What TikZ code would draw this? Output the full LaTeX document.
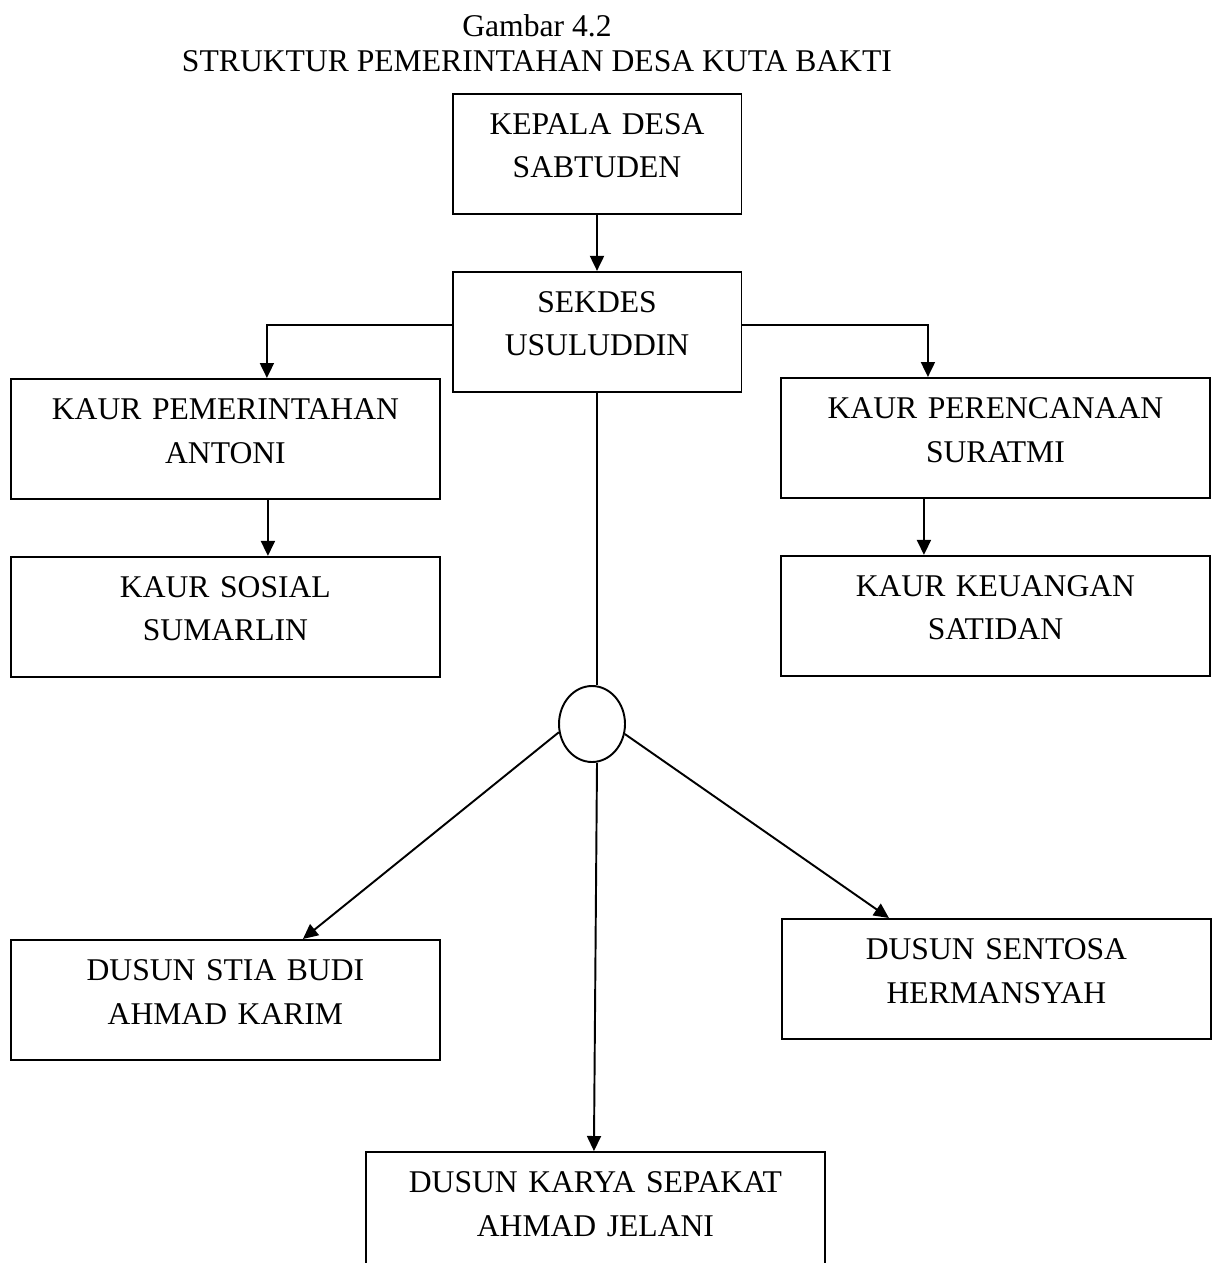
\documentclass[tikz,border=0pt]{standalone}
\usepackage{fontspec}
\setmainfont{Liberation Serif}
\usetikzlibrary{arrows.meta, positioning, shapes.geometric}

\begin{document}
\begin{tikzpicture}[x=0.02cm, y=-0.02cm, node distance=1.12cm,
    font=\fontsize{18pt}{24.5pt}\selectfont,
    garis/.style={line width=1.1pt},
    kotak/.style={draw, garis, inner sep=0pt, align=center, text height=0.82cm, text depth=1.58cm},
    panah/.style={garis, -{Triangle[length=0.3cm, width=0.28cm]}}]
    \clip (0,0) rectangle (1218,1263);

    \node (gambar) [anchor=base] at (537,37) {Gambar 4.2};
    \node (judul) [anchor=base] at (537,72) {STRUKTUR PEMERINTAHAN DESA KUTA BAKTI};

    \node (kades) [kotak, text width=5.78cm, anchor=north] at (597,93) {KEPALA DESA\\SABTUDEN};
    \node (sekdes) [kotak, text width=5.78cm, below=of kades] {SEKDES\\USULUDDIN};
    \node (kaurpem) [kotak, text width=8.58cm, anchor=north west] at (10,378) {KAUR PEMERINTAHAN\\ANTONI};
    \node (kaursos) [kotak, text width=8.58cm, below=of kaurpem] {KAUR SOSIAL\\SUMARLIN};
    \node (kaurren) [kotak, text width=8.58cm, anchor=north west] at (780,377) {KAUR PERENCANAAN\\SURATMI};
    \node (kaurkeu) [kotak, text width=8.58cm, below=of kaurren] {KAUR KEUANGAN\\SATIDAN};
    \node (hub) [draw, garis, ellipse, inner sep=0pt, minimum width=1.32cm, minimum height=1.52cm] at (592,724) {};
    \node (dsstia) [kotak, text width=8.58cm, anchor=north west] at (10,939) {DUSUN STIA BUDI\\AHMAD KARIM};
    \node (dssentosa) [kotak, text width=8.58cm, anchor=north west] at (781,918) {DUSUN SENTOSA\\HERMANSYAH};
    \node (dskarya) [kotak, text width=9.18cm, anchor=north west] at (365,1151) {DUSUN KARYA SEPAKAT\\AHMAD JELANI};

    \draw[panah] (kades) -- (sekdes);
    \draw[panah] ([yshift=0.14cm]sekdes.west) -| ([xshift=0.83cm]kaurpem.north);
    \draw[panah] ([yshift=0.14cm]sekdes.east) -| ([xshift=-1.35cm]kaurren.north);
    \draw[panah] ([xshift=0.85cm]kaurpem.south) -- ([xshift=0.85cm]kaursos.north);
    \draw[panah] ([xshift=-1.43cm]kaurren.south) -- ([xshift=-1.43cm]kaurkeu.north);
    \draw[garis] (sekdes.south) -- (sekdes.south |- hub.north);
    \draw[panah] (hub.194) -- ([xshift=1.55cm]dsstia.north);
    \draw[panah] (hub.343) -- ([xshift=-2.15cm]dssentosa.north);
    \draw[panah] ([xshift=0.1cm]hub.south) -- ([xshift=-0.03cm]dskarya.north);
\end{tikzpicture}
\end{document}
